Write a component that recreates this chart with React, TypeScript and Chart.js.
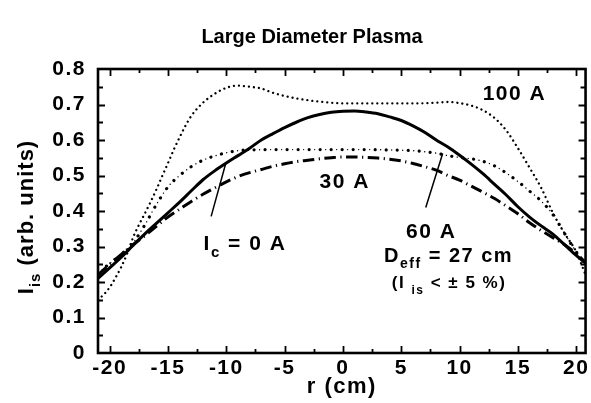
import React, { useEffect, useRef } from "react";
import { Chart, registerables } from "chart.js";

Chart.register(...registerables);

const FONT = "'Liberation Sans', Arial, Helvetica, sans-serif";
const INK = "#000";
const SPACING = "1.5px";

// Ion saturation current profiles I_is (arb. units) versus radius r (cm)
// for several coil currents I_c.
const rCoil0 = [-21, -20, -19, -18, -17, -16, -15, -14, -13, -12, -11, -10, -9, -8, -7, -6, -5, -4, -3, -2, -1, 0, 1, 2, 3, 4, 5, 6, 7, 8, 9, 10, 11, 12, 13, 14, 15, 16, 17, 18, 19, 20, 20.8];
const iCoil0 = [0.21, 0.24, 0.27, 0.303, 0.335, 0.365, 0.395, 0.425, 0.457, 0.488, 0.513, 0.535, 0.556, 0.577, 0.6, 0.618, 0.635, 0.65, 0.663, 0.672, 0.678, 0.681, 0.682, 0.679, 0.674, 0.665, 0.655, 0.64, 0.622, 0.6, 0.58, 0.557, 0.532, 0.505, 0.475, 0.445, 0.412, 0.383, 0.358, 0.335, 0.305, 0.275, 0.253];

const rCoil30 = [-21, -20, -19, -18, -17, -16, -15, -14, -13, -12, -11, -10, -9, -8, -7, -6, -5, -4, -3, -2, -1, 0, 1, 2, 3, 4, 5, 6, 7, 8, 9, 10, 11, 12, 13, 14, 15, 16, 17, 18, 19, 20, 20.8];
const iCoil30 = [0.22, 0.25, 0.278, 0.305, 0.33, 0.357, 0.383, 0.405, 0.427, 0.447, 0.465, 0.482, 0.497, 0.508, 0.517, 0.526, 0.533, 0.539, 0.543, 0.547, 0.55, 0.552, 0.552, 0.551, 0.549, 0.546, 0.541, 0.534, 0.525, 0.515, 0.5, 0.487, 0.47, 0.453, 0.435, 0.414, 0.392, 0.367, 0.345, 0.325, 0.305, 0.28, 0.255];

const rCoil60 = [-21, -20, -19, -18, -17, -16, -15, -14, -13, -12, -11, -10, -9, -8, -6, -4, -2, 0, 2, 4, 6, 7, 8, 9, 10, 11, 12, 13, 14, 15, 16, 17, 18, 19, 20, 20.8];
const iCoil60 = [0.225, 0.252, 0.278, 0.31, 0.36, 0.418, 0.468, 0.5, 0.525, 0.543, 0.555, 0.564, 0.57, 0.572, 0.573, 0.573, 0.573, 0.573, 0.573, 0.572, 0.57, 0.567, 0.563, 0.556, 0.551, 0.547, 0.54, 0.527, 0.507, 0.483, 0.456, 0.428, 0.39, 0.337, 0.285, 0.25];

const rCoil100 = [-21, -20.5, -20, -19.5, -19, -18.5, -18, -17.5, -17, -16.5, -16, -15.5, -15, -14.5, -14, -13.5, -13, -12, -11, -10, -9, -8, -7, -6, -5, -4, -3, -2, -1, 0, 2, 4, 6, 8, 9, 10, 11, 12, 13, 14, 15, 16, 17, 18, 19, 20, 20.8];
const iCoil100 = [0.15, 0.165, 0.185, 0.212, 0.243, 0.28, 0.325, 0.36, 0.392, 0.425, 0.46, 0.498, 0.535, 0.573, 0.608, 0.64, 0.668, 0.705, 0.73, 0.747, 0.753, 0.75, 0.745, 0.733, 0.724, 0.717, 0.712, 0.708, 0.705, 0.703, 0.703, 0.703, 0.703, 0.705, 0.707, 0.704, 0.697, 0.684, 0.662, 0.627, 0.577, 0.522, 0.465, 0.395, 0.337, 0.285, 0.22];

// Axis ticks
const xTicks = [-20, -15, -10, -5, 0, 5, 10, 15, 20];
const xTickLabels = ["-20", "-15", "-10", "-5", "0", "5", "10", "15", "20"];
const yTicks = [0, 0.1, 0.2, 0.3, 0.4, 0.5, 0.6, 0.7, 0.8];
const yTickLabels = ["0", "0.1", "0.2", "0.3", "0.4", "0.5", "0.6", "0.7", "0.8"];
const xMarks = [-20, -17.5, -15, -12.5, -10, -7.5, -5, -2.5, 0, 2.5, 5, 7.5, 10, 12.5, 15, 17.5, 20];
const yMarks = [0.05, 0.1, 0.15, 0.2, 0.25, 0.3, 0.35, 0.4, 0.45, 0.5, 0.55, 0.6, 0.65, 0.7, 0.75];

// Curve labels: text runs (sub = subscript), centre in data units, font size
type Run = { t: string; sub?: boolean };
const labelRuns: Run[][] = [
  [{ t: "100 A" }],
  [{ t: "30 A" }],
  [{ t: "I" }, { t: "c", sub: true }, { t: " = 0 A" }],
  [{ t: "60 A" }],
  [{ t: "D" }, { t: "eff", sub: true }, { t: " = 27 cm" }],
  [{ t: "(I " }, { t: "is", sub: true }, { t: " < ± 5 %)" }],
];
const labelR = [14.7, 0.15, -8.4, 7.57, 9.06, 9.1];
const labelI = [0.735, 0.485, 0.312, 0.346, 0.277, 0.2];
const labelSize = [21, 21, 21, 21, 20, 17];

// Leader lines from a label to its curve: [r0, I0, r1, I1]
const leaders = [
  [-11.3, 0.385, -10.05, 0.534],
  [7.1, 0.41, 8.55, 0.562],
];

const toPoints = (r: number[], v: number[]) => r.map((x, k) => ({ x, y: v[k] }));

function drawRuns(
  ctx: CanvasRenderingContext2D,
  runs: Run[],
  cx: number,
  cy: number,
  size: number,
  spacing = SPACING
) {
  (ctx as any).letterSpacing = spacing;
  const sub = Math.round(size * 0.7);
  const widths = runs.map((r) => {
    ctx.font = `bold ${r.sub ? sub : size}px ${FONT}`;
    return ctx.measureText(r.t).width;
  });
  const total = widths.reduce((a, b) => a + b, 0);
  let x = cx - total / 2;
  const base = cy + size * 0.36;
  ctx.textAlign = "left";
  ctx.textBaseline = "alphabetic";
  runs.forEach((r, k) => {
    ctx.font = `bold ${r.sub ? sub : size}px ${FONT}`;
    ctx.fillText(r.t, x, base + (r.sub ? size * 0.32 : 0));
    x += widths[k];
  });
}

const decorations = {
  id: "decorations",
  beforeDraw(chart: any) {
    // the printed lettering is set a little wide
    chart.ctx.letterSpacing = SPACING;
  },
  afterDatasetsDraw(chart: any) {
    const { ctx, chartArea: a, scales } = chart;
    const xs = scales.x;
    const ys = scales.y;
    ctx.save();
    ctx.strokeStyle = INK;
    ctx.fillStyle = INK;

    // plot frame
    ctx.lineWidth = 2.6;
    ctx.strokeRect(a.left, a.top, a.right - a.left, a.bottom - a.top);

    // inward tick marks on all four sides
    ctx.lineWidth = 1.8;
    ctx.beginPath();
    xMarks.forEach((v) => {
      const px = Math.round(xs.getPixelForValue(v)) + 0.5;
      const len = v % 5 === 0 ? 7 : 4;
      ctx.moveTo(px, a.bottom);
      ctx.lineTo(px, a.bottom - len);
      ctx.moveTo(px, a.top);
      ctx.lineTo(px, a.top + len);
    });
    yMarks.forEach((v) => {
      const py = Math.round(ys.getPixelForValue(v)) + 0.5;
      const len = Math.abs(v * 10 - Math.round(v * 10)) < 1e-6 ? 7 : 5;
      ctx.moveTo(a.left, py);
      ctx.lineTo(a.left + len, py);
      ctx.moveTo(a.right, py);
      ctx.lineTo(a.right - len, py);
    });
    ctx.stroke();

    // leader lines
    ctx.lineWidth = 1.5;
    ctx.beginPath();
    leaders.forEach(([r0, i0, r1, i1]) => {
      ctx.moveTo(xs.getPixelForValue(r0), ys.getPixelForValue(i0));
      ctx.lineTo(xs.getPixelForValue(r1), ys.getPixelForValue(i1));
    });
    ctx.stroke();

    // curve labels
    labelRuns.forEach((runs, k) => {
      drawRuns(ctx, runs, xs.getPixelForValue(labelR[k]), ys.getPixelForValue(labelI[k]), labelSize[k]);
    });

    // chart title
    drawRuns(ctx, [{ t: "Large Diameter Plasma" }], 312, 36, 20, "0px");

    // y-axis title, rotated
    ctx.translate(25, (a.top + a.bottom) / 2 + 6);
    ctx.rotate(-Math.PI / 2);
    drawRuns(ctx, [{ t: "I" }, { t: "is", sub: true }, { t: " (arb. units)" }], 0, 0, 22, "1px");
    ctx.restore();
  },
  afterDraw(chart: any) {
    chart.ctx.letterSpacing = "0px";
  },
};

export default function App() {
  const ref = useRef<HTMLCanvasElement>(null);

  useEffect(() => {
    const tickFont = { family: FONT, size: 21, weight: "bold" as const };
    const chart = new Chart(ref.current!, {
      type: "line",
      data: {
        datasets: [
          {
            label: "I_c = 0 A",
            data: toPoints(rCoil0, iCoil0),
            borderColor: INK,
            borderWidth: 3,
          },
          {
            label: "30 A",
            data: toPoints(rCoil30, iCoil30),
            borderColor: INK,
            borderWidth: 3,
            borderDash: [11.5, 4.5, 1.2, 4.5],
          },
          {
            label: "60 A",
            data: toPoints(rCoil60, iCoil60),
            borderColor: INK,
            borderWidth: 3.2,
            borderDash: [0.01, 11],
            borderCapStyle: "round",
          },
          {
            label: "60 A fine",
            data: toPoints(rCoil60, iCoil60),
            borderColor: INK,
            borderWidth: 1.4,
            borderDash: [0.01, 11],
            borderDashOffset: -5.5,
            borderCapStyle: "round",
          },
          {
            label: "100 A",
            data: toPoints(rCoil100, iCoil100),
            borderColor: INK,
            borderWidth: 2.3,
            borderDash: [0.01, 5],
            borderCapStyle: "round",
          },
        ],
      },
      options: {
        responsive: false,
        animation: false,
        layout: { padding: { top: 69, right: 5, left: 0, bottom: 0 } },
        elements: {
          point: { radius: 0, hoverRadius: 0 },
          line: { cubicInterpolationMode: "monotone", fill: false },
        },
        plugins: {
          legend: { display: false },
          title: { display: false },
          tooltip: { enabled: false },
        },
        scales: {
          x: {
            type: "linear",
            min: -21,
            max: 20.8,
            afterBuildTicks: (s: any) => {
              s.ticks = xTicks.map((value) => ({ value }));
            },
            afterFit: (s: any) => {
              s.height = 50;
            },
            grid: { display: false, drawTicks: false },
            border: { display: false },
            ticks: {
              color: INK,
              font: tickFont,
              padding: 3,
              maxRotation: 0,
              autoSkip: false,
              callback: (_v: any, k: number) => xTickLabels[k],
            },
            title: {
              display: true,
              text: "r (cm)",
              color: INK,
              font: { family: FONT, size: 22, weight: "bold" },
              padding: { top: 0, bottom: 3 },
            },
          },
          y: {
            type: "linear",
            min: 0,
            max: 0.8,
            afterBuildTicks: (s: any) => {
              s.ticks = yTicks.map((value) => ({ value }));
            },
            afterFit: (s: any) => {
              s.width = 98;
            },
            grid: { display: false, drawTicks: false },
            border: { display: false },
            ticks: {
              color: INK,
              font: tickFont,
              padding: 12,
              autoSkip: false,
              callback: (_v: any, k: number) => yTickLabels[k],
            },
          },
        },
      },
      plugins: [decorations],
    });
    return () => chart.destroy();
  }, []);

  return (
    <div style={{ position: "fixed", left: 0, top: 0, width: 591, height: 403, background: "#fff" }}>
      <canvas ref={ref} width={591} height={403} style={{ display: "block" }} />
    </div>
  );
}
